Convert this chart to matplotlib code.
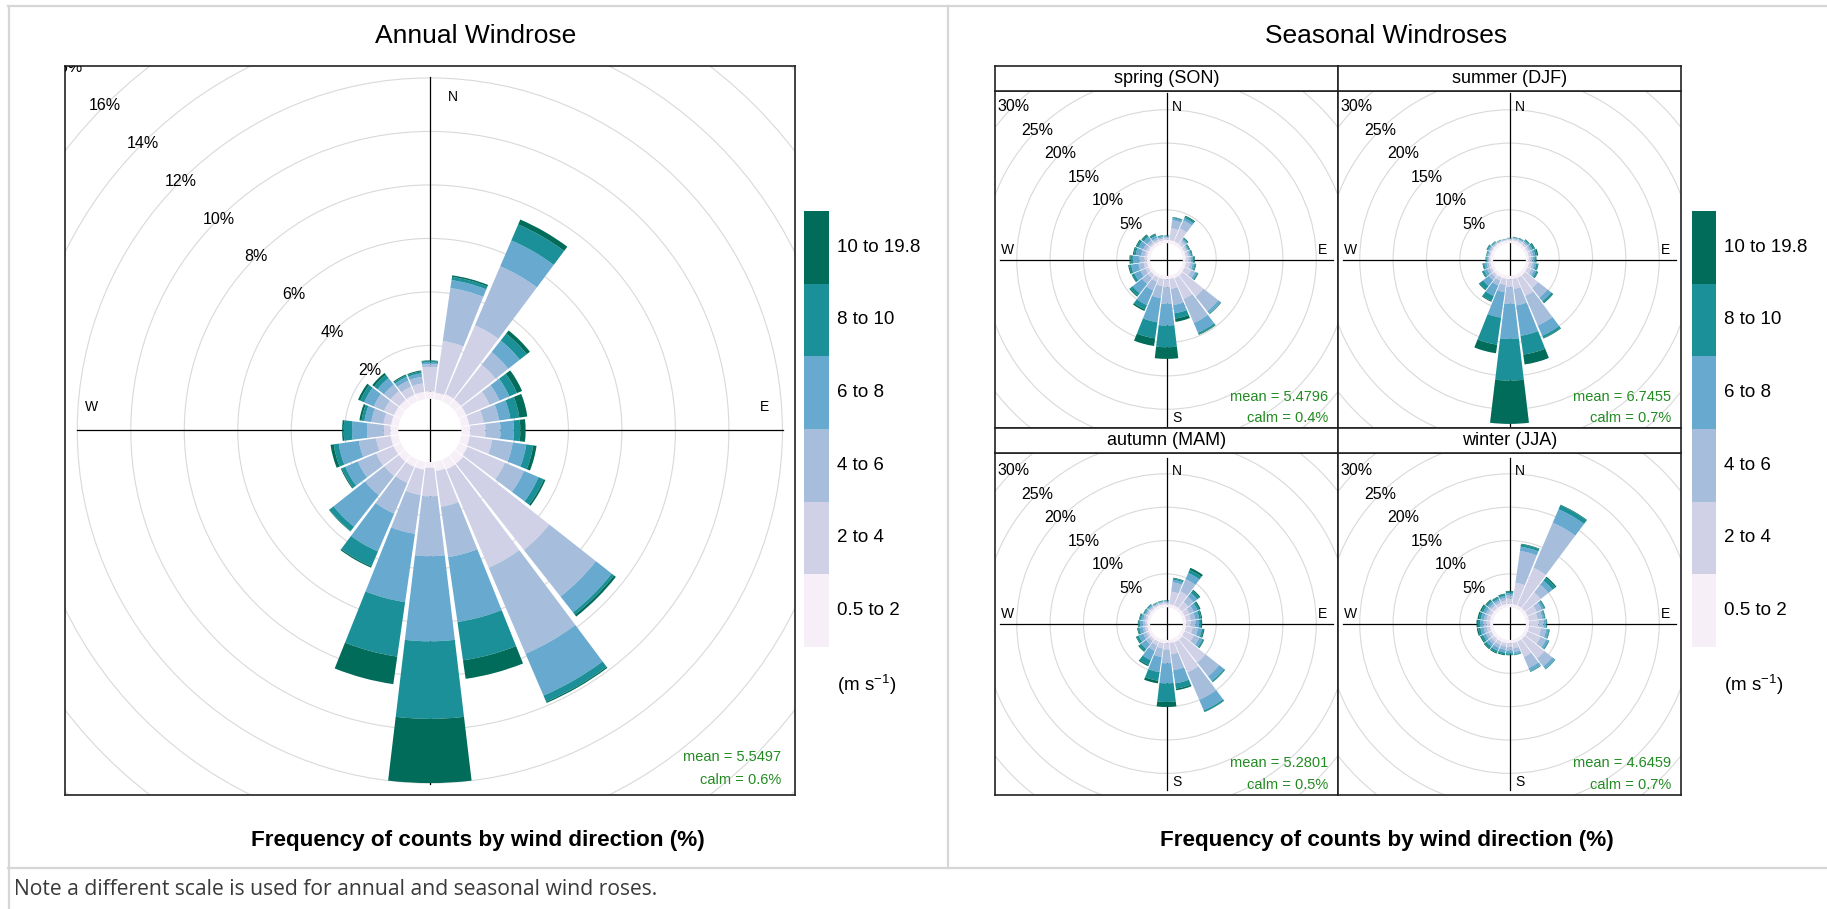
"""
Annual and seasonal wind roses (openair-style), 15 degree sectors, PuBuGn speed bins.
"""
import numpy as np
import matplotlib
matplotlib.use("Agg")
import matplotlib.pyplot as plt
from matplotlib.patches import Wedge, Circle
from matplotlib.lines import Line2D

W, H = 1827, 909

plt.rcParams["font.family"] = ["Liberation Sans", "DejaVu Sans"]
plt.rcParams["mathtext.fontset"] = "custom"
plt.rcParams["mathtext.rm"] = "Liberation Sans"
plt.rcParams["mathtext.it"] = "Liberation Sans:italic"
plt.rcParams["mathtext.default"] = "regular"

PUBUGN = ["#f6eff7", "#d0d1e6", "#a6bddb", "#67a9cf", "#1c9099", "#016c59"]
SPEED_LABELS = ["0.5 to 2", "2 to 4", "4 to 6", "6 to 8", "8 to 10", "10 to 19.8"]
DIRECTIONS = list(range(0, 360, 15))

# cumulative frequency (%) at the top of each speed bin, one row per direction (0, 15, ... 345)
ANNUAL = [
    [0.28, 1.20, 1.30, 1.36, 1.42, 1.44],
    [0.25, 2.20, 4.20, 4.50, 4.62, 4.68],
    [0.30, 3.10, 5.50, 6.55, 7.20, 7.40],
    [0.30, 1.95, 2.55, 3.10, 3.43, 3.58],
    [0.30, 1.25, 1.65, 2.05, 2.36, 2.57],
    [0.30, 0.85, 1.43, 1.86, 2.20, 2.50],
    [0.33, 0.90, 1.46, 1.96, 2.20, 2.40],
    [0.32, 1.17, 1.95, 2.46, 2.72, 2.85],
    [0.35, 1.87, 2.65, 3.24, 3.45, 3.52],
    [0.40, 4.50, 6.72, 7.47, 7.58, 7.67],
    [0.40, 4.40, 7.90, 9.60, 9.85, 9.90],
    [0.35, 1.70, 3.60, 6.05, 7.50, 8.20],
    [0.22, 1.28, 3.52, 6.70, 9.60, 12.00],
    [0.30, 1.25, 2.72, 5.30, 7.36, 8.40],
    [0.30, 0.95, 2.20, 3.74, 4.35, 4.40],
    [0.30, 0.98, 1.90, 3.40, 3.60, 3.62],
    [0.30, 1.00, 1.75, 2.26, 2.40, 2.44],
    [0.30, 0.85, 1.50, 2.26, 2.45, 2.57],
    [0.30, 0.54, 1.17, 1.73, 2.04, 2.10],
    [0.28, 0.57, 1.03, 1.29, 1.40, 1.48],
    [0.28, 0.68, 1.10, 1.49, 1.65, 1.74],
    [0.28, 0.69, 1.00, 1.31, 1.47, 1.56],
    [0.28, 0.60, 0.85, 1.00, 1.06, 1.10],
    [0.28, 0.60, 0.85, 0.98, 1.05, 1.09],
]

SPRING = [
    [0.50, 0.80, 0.95, 1.05, 1.10, 1.15],
    [0.50, 2.30, 3.50, 3.80, 3.95, 4.00],
    [0.50, 2.60, 3.90, 4.30, 4.55, 4.70],
    [0.50, 1.00, 1.30, 1.50, 1.65, 1.75],
    [0.45, 0.80, 1.00, 1.15, 1.30, 1.40],
    [0.45, 0.80, 1.05, 1.25, 1.40, 1.50],
    [0.45, 0.90, 1.25, 1.50, 1.70, 1.80],
    [0.50, 1.10, 1.50, 1.80, 1.95, 2.05],
    [0.50, 1.60, 2.20, 2.50, 2.65, 2.75],
    [0.60, 4.60, 7.40, 7.85, 7.95, 8.00],
    [0.60, 4.00, 7.90, 9.50, 9.75, 9.85],
    [0.50, 2.00, 4.45, 5.70, 6.50, 7.00],
    [0.50, 1.70, 4.20, 7.45, 10.70, 12.45],
    [0.50, 1.60, 3.40, 7.05, 9.50, 10.65],
    [0.50, 1.20, 2.60, 5.00, 5.70, 5.95],
    [0.50, 1.10, 2.20, 4.00, 4.50, 4.65],
    [0.50, 1.00, 1.80, 2.80, 3.15, 3.25],
    [0.50, 1.00, 1.80, 2.90, 3.20, 3.35],
    [0.50, 0.90, 1.60, 2.60, 2.95, 3.10],
    [0.50, 0.85, 1.40, 2.20, 2.50, 2.65],
    [0.50, 0.85, 1.35, 2.10, 2.40, 2.55],
    [0.50, 0.80, 1.25, 1.90, 2.20, 2.35],
    [0.45, 0.75, 1.05, 1.45, 1.70, 1.80],
    [0.45, 0.70, 0.90, 1.10, 1.20, 1.25],
]

SUMMER = [
    [0.45, 0.60, 0.68, 0.74, 0.78, 0.80],
    [0.45, 0.65, 0.78, 0.88, 0.95, 1.00],
    [0.45, 0.70, 0.85, 0.95, 1.05, 1.10],
    [0.45, 0.75, 0.95, 1.15, 1.30, 1.40],
    [0.45, 0.75, 1.00, 1.30, 1.55, 1.70],
    [0.45, 0.80, 1.10, 1.45, 1.70, 1.90],
    [0.45, 0.75, 1.00, 1.30, 1.50, 1.60],
    [0.50, 0.95, 1.30, 1.60, 1.85, 1.95],
    [0.50, 1.10, 1.55, 1.90, 2.15, 2.25],
    [0.55, 3.00, 4.80, 5.50, 5.80, 5.90],
    [0.55, 3.50, 8.30, 10.00, 10.35, 10.45],
    [0.50, 2.00, 4.50, 9.10, 11.95, 13.45],
    [0.50, 1.70, 4.20, 9.45, 15.70, 22.20],
    [0.50, 1.40, 2.50, 6.35, 10.45, 11.75],
    [0.50, 1.00, 1.80, 3.50, 4.30, 4.45],
    [0.50, 0.90, 1.50, 2.60, 3.25, 3.40],
    [0.45, 0.80, 1.20, 1.70, 1.95, 2.05],
    [0.45, 0.70, 1.00, 1.35, 1.55, 1.65],
    [0.45, 0.65, 0.80, 0.98, 1.10, 1.15],
    [0.45, 0.60, 0.78, 0.95, 1.05, 1.10],
    [0.45, 0.65, 0.85, 1.05, 1.20, 1.30],
    [0.45, 0.60, 0.75, 0.90, 1.00, 1.05],
    [0.45, 0.55, 0.65, 0.72, 0.77, 0.80],
    [0.42, 0.52, 0.60, 0.65, 0.68, 0.70],
]

AUTUMN = [
    [0.45, 0.70, 0.85, 0.95, 1.00, 1.05],
    [0.50, 2.40, 3.80, 4.20, 4.40, 4.50],
    [0.50, 2.80, 4.80, 5.80, 6.30, 6.65],
    [0.50, 1.70, 2.70, 3.40, 3.80, 4.00],
    [0.50, 1.30, 2.00, 2.60, 2.90, 3.10],
    [0.50, 1.20, 1.90, 2.50, 2.80, 2.95],
    [0.50, 1.20, 1.90, 2.45, 2.75, 2.90],
    [0.50, 1.50, 2.30, 2.90, 3.15, 3.30],
    [0.50, 2.00, 2.90, 3.40, 3.60, 3.70],
    [0.60, 5.00, 7.60, 8.50, 8.70, 8.75],
    [0.60, 5.50, 10.00, 11.70, 11.95, 12.00],
    [0.50, 2.20, 4.60, 6.60, 7.40, 7.65],
    [0.50, 1.50, 3.50, 6.50, 9.30, 10.05],
    [0.50, 1.30, 2.60, 4.90, 6.20, 6.60],
    [0.50, 1.10, 2.00, 3.50, 4.30, 4.50],
    [0.50, 0.90, 1.50, 2.40, 2.80, 2.95],
    [0.50, 0.85, 1.35, 2.10, 2.45, 2.55],
    [0.45, 0.80, 1.15, 1.65, 1.90, 2.00],
    [0.45, 0.75, 1.10, 1.55, 1.75, 1.85],
    [0.45, 0.75, 1.05, 1.40, 1.60, 1.70],
    [0.45, 0.70, 0.90, 1.15, 1.30, 1.35],
    [0.45, 0.70, 0.90, 1.10, 1.25, 1.30],
    [0.45, 0.65, 0.80, 0.92, 1.00, 1.05],
    [0.45, 0.65, 0.80, 0.92, 1.00, 1.05],
]

WINTER = [
    [0.50, 1.30, 1.80, 2.10, 2.35, 2.45],
    [0.50, 3.75, 8.55, 9.20, 9.55, 9.65],
    [0.50, 6.65, 14.00, 16.20, 16.85, 16.95],
    [0.50, 3.50, 5.00, 5.75, 6.30, 6.50],
    [0.50, 2.00, 2.80, 3.15, 3.30, 3.40],
    [0.50, 1.80, 2.50, 2.80, 2.92, 3.00],
    [0.50, 1.90, 2.65, 3.00, 3.12, 3.20],
    [0.50, 2.30, 3.10, 3.45, 3.58, 3.65],
    [0.50, 2.60, 3.50, 3.85, 4.00, 4.05],
    [0.50, 4.20, 5.70, 6.15, 6.25, 6.30],
    [0.50, 3.00, 4.80, 5.30, 5.40, 5.45],
    [0.50, 1.30, 1.90, 2.20, 2.30, 2.35],
    [0.50, 1.10, 1.60, 2.00, 2.20, 2.30],
    [0.50, 1.00, 1.50, 1.95, 2.20, 2.35],
    [0.50, 1.00, 1.50, 2.00, 2.30, 2.45],
    [0.50, 1.00, 1.45, 1.95, 2.30, 2.45],
    [0.50, 0.95, 1.40, 1.85, 2.20, 2.35],
    [0.50, 1.00, 1.45, 1.95, 2.30, 2.50],
    [0.50, 1.00, 1.45, 1.95, 2.30, 2.50],
    [0.50, 1.00, 1.40, 1.90, 2.20, 2.40],
    [0.50, 1.00, 1.40, 1.85, 2.15, 2.35],
    [0.50, 1.00, 1.35, 1.75, 2.00, 2.15],
    [0.50, 0.95, 1.30, 1.60, 1.85, 1.95],
    [0.50, 1.05, 1.45, 1.75, 2.00, 2.10],
]

SEASON_NAMES = ["spring (SON)", "summer (DJF)", "autumn (MAM)", "winter (JJA)"]
SEASON_DATA = [SPRING, SUMMER, AUTUMN, WINTER]
SEASON_MEAN = ["5.4796", "6.7455", "5.2801", "4.6459"]
SEASON_CALM = ["0.4%", "0.7%", "0.5%", "0.7%"]
ANNUAL_MEAN, ANNUAL_CALM = "5.5497", "0.6%"

ANNUAL_RINGS = list(range(2, 26, 2))
ANNUAL_LABELLED = list(range(2, 20, 2))   # 18% only peeps in at the corner
SEASON_RINGS = list(range(5, 45, 5))
SEASON_LABELLED = list(range(5, 35, 5))

GREEN = "#228b22"
FRAME = "#d6d6d6"


def px_axes(fig, x0, y0, x1, y1, **kw):
    return fig.add_axes([x0 / W, 1 - y1 / H, (x1 - x0) / W, (y1 - y0) / H], **kw)


def draw_rose(fig, box, centre, cum, scale, offset, rings, labelled, axis_len, lab_xy,
              mean, calm, stat_off):
    x0, y0, x1, y1 = box
    cx, cy = centre
    ax = px_axes(fig, *box)
    ax.set_xlim((x0 - cx) / scale, (x1 - cx) / scale)
    ax.set_ylim((cy - y1) / scale, (cy - y0) / scale)
    ax.set_xticks([])
    ax.set_yticks([])
    for sp in ax.spines.values():
        sp.set_linewidth(1.2)
        sp.set_color("#222222")

    a = np.deg2rad(135)
    for r in rings:
        ax.add_patch(Circle((0, 0), offset + r, fill=False, ec="#d9d9d9", lw=0.8, zorder=1))
        if r in labelled:
            ax.text((offset + r) * np.cos(a), (offset + r) * np.sin(a), f"{r}%",
                    ha="center", va="center", fontsize=11.5, zorder=4, clip_on=True)

    ax.plot([-axis_len, axis_len], [0, 0], color="black", lw=0.9, zorder=2)
    ax.plot([0, 0], [-axis_len, axis_len], color="black", lw=0.9, zorder=2)
    for lab, (tx, ty) in zip("NESW", lab_xy):
        ax.text(tx, ty, lab, ha="center", va="center", fontsize=10, zorder=2)

    half = 6.8
    for d, tops in zip(DIRECTIONS, cum):
        theta = 90 - d
        inner = 0.0
        for k, top in enumerate(tops):
            if top > inner:
                ax.add_patch(Wedge((0, 0), offset + top, theta - half, theta + half,
                                   width=top - inner, fc=PUBUGN[k], ec="none", zorder=3))
            inner = top

    rx, my, cyy = stat_off
    ax.text(1 - rx / (x1 - x0), my / (y1 - y0), f"mean = {mean}", transform=ax.transAxes,
            ha="right", va="center", fontsize=10.5, color=GREEN, zorder=5)
    ax.text(1 - rx / (x1 - x0), cyy / (y1 - y0), f"calm = {calm}", transform=ax.transAxes,
            ha="right", va="center", fontsize=10.5, color=GREEN, zorder=5)
    return ax


def draw_key(fig, x0, x1, y0, y1, lab_x):
    ax = px_axes(fig, x0, y0, x1, y1)
    for i, c in enumerate(PUBUGN):
        ax.bar(0, 1, bottom=i, width=1, color=c, edgecolor="none")
    ax.set_xlim(-0.5, 0.5)
    ax.set_ylim(0, len(PUBUGN))
    ax.axis("off")
    step = (y1 - y0) / len(PUBUGN)
    for i, lab in enumerate(SPEED_LABELS):
        yc = y1 - step * (i + 0.5)
        fig.text(lab_x / W, 1 - yc / H, lab, ha="left", va="center", fontsize=13.5)
    fig.text(lab_x / W, 1 - 685 / H, r"(m s$^{-1}$)", ha="left", va="center", fontsize=13.5)


fig = plt.figure(figsize=(W / 100, H / 100), dpi=100)
fig.patch.set_facecolor("white")

# table frame round the two cells and the note row
for xs, ys in [([8, W], [5.5, 5.5]), ([8.5, 8.5], [5.5, H]),
               ([948, 948], [5.5, 868]), ([8, W], [868, 868])]:
    fig.add_artist(Line2D([x / W for x in xs], [1 - y / H for y in ys],
                          transform=fig.transFigure, color=FRAME, lw=1.6))

# ---- annual ----
fig.text(476 / W, 1 - 43 / H, "Annual Windrose", ha="center", va="baseline", fontsize=19)
draw_rose(fig, (65, 66.4, 794.7, 794.7), (429.85, 430.5), ANNUAL, 26.75, 1.18,
          ANNUAL_RINGS, ANNUAL_LABELLED, 13.2,
          [(0.86, 12.45), (12.52, 0.86), (0.86, -12.45), (-12.64, 0.86)],
          ANNUAL_MEAN, ANNUAL_CALM, (13.3, 37.4, 14.7))
draw_key(fig, 804, 828.5, 211, 647, 836.6)
fig.text(478 / W, 1 - 846 / H, "Frequency of counts by wind direction (%)",
         ha="center", va="baseline", fontsize=16.2, fontweight="bold")

# ---- seasonal ----
fig.text(1386 / W, 1 - 43 / H, "Seasonal Windroses", ha="center", va="baseline", fontsize=19)
cols = [(995, 1338), (1338, 1681)]
rows = [(66.4, 91, 428), (428, 452.5, 794.7)]
for i, (name, data, mean, calm) in enumerate(zip(SEASON_NAMES, SEASON_DATA,
                                                 SEASON_MEAN, SEASON_CALM)):
    xa, xb = cols[i % 2]
    st, pt, pb = rows[i // 2]
    centre = ((xa + xb) / 2, (pt + pb) / 2)
    draw_rose(fig, (xa, pt, xb, pb), centre, data, 6.67, 2.45, SEASON_RINGS,
              SEASON_LABELLED, 24.9,
              [(1.57, 22.9), (23.4, 1.4), (1.55, -23.7), (-23.9, 1.4)],
              mean, calm, (10, 31.5, 10))
    sax = px_axes(fig, xa, st, xb, pt)
    sax.set_xticks([])
    sax.set_yticks([])
    for sp in sax.spines.values():
        sp.set_linewidth(1.2)
        sp.set_color("#222222")
    sax.text(0.5, 0.5, name, ha="center", va="center", fontsize=13, transform=sax.transAxes)

draw_key(fig, 1692, 1716, 211, 647, 1724.5)
fig.text(1387 / W, 1 - 846 / H, "Frequency of counts by wind direction (%)",
         ha="center", va="baseline", fontsize=16.2, fontweight="bold")

fig.text(14 / W, 1 - 895 / H, "Note a different scale is used for annual and seasonal wind roses.",
         ha="left", va="baseline", fontsize=15.2, color="#3a3a3a", family="Open Sans")

fig.savefig("out.png", dpi=100, facecolor="white")
